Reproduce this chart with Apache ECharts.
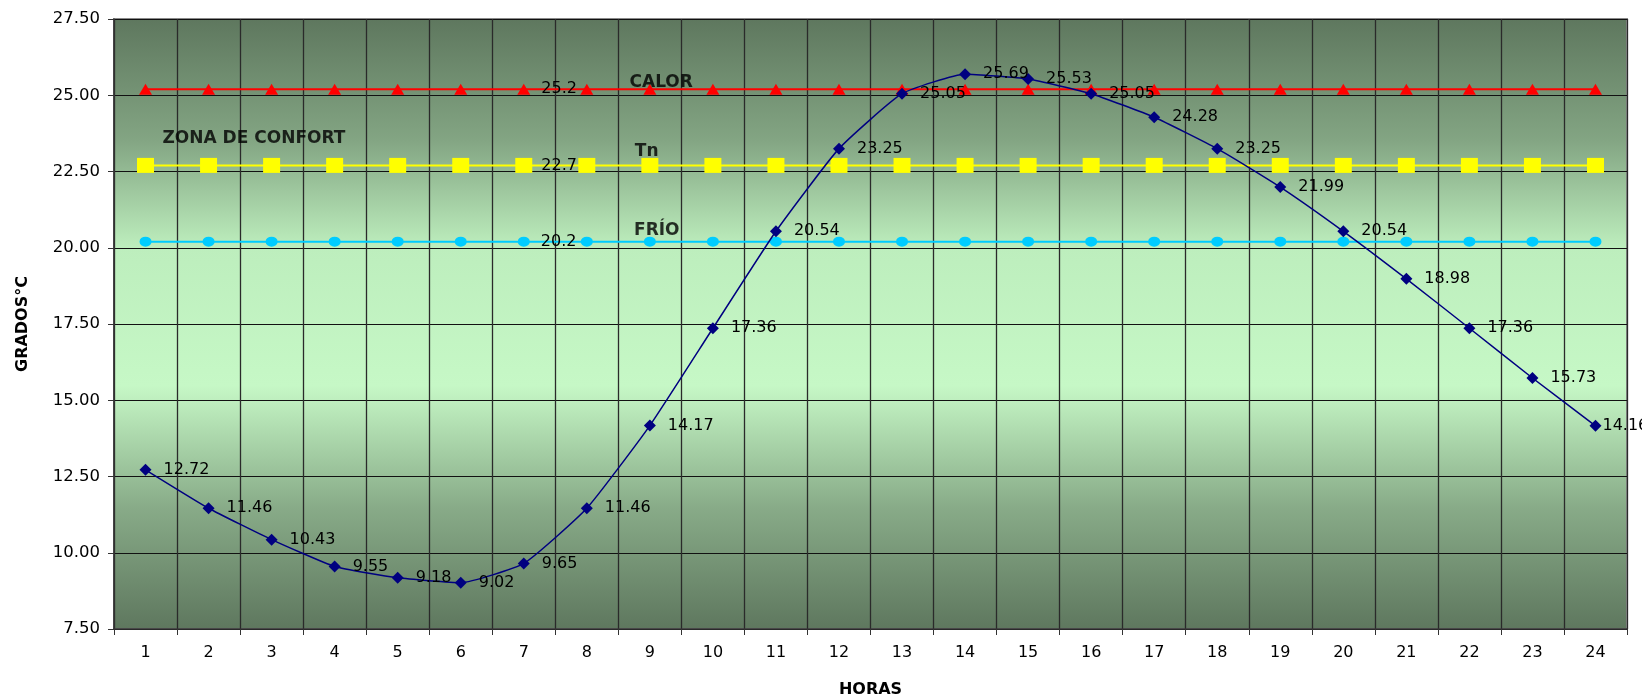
<!DOCTYPE html>
<html>
<head>
<meta charset="utf-8">
<script src="https://cdn.jsdelivr.net/npm/echarts@6/dist/echarts.min.js"></script>
<style>
html,body{margin:0;padding:0;background:#fff;}
#chart{width:1642px;height:696px;}
</style>
</head>
<body>
<div id="chart"></div>
<script>
const horas = ['1','2','3','4','5','6','7','8','9','10','11','12','13','14','15','16','17','18','19','20','21','22','23','24'];
const temperatura = [12.72,11.46,10.43,9.55,9.18,9.02,9.65,11.46,14.17,17.36,20.54,23.25,25.05,25.69,25.53,25.05,24.28,23.25,21.99,20.54,18.98,17.36,15.73,14.16];
const calor = [25.2,25.2,25.2,25.2,25.2,25.2,25.2,25.2,25.2,25.2,25.2,25.2,25.2,25.2,25.2,25.2,25.2,25.2,25.2,25.2,25.2,25.2,25.2,25.2];
const tn = [22.7,22.7,22.7,22.7,22.7,22.7,22.7,22.7,22.7,22.7,22.7,22.7,22.7,22.7,22.7,22.7,22.7,22.7,22.7,22.7,22.7,22.7,22.7,22.7];
const frio = [20.2,20.2,20.2,20.2,20.2,20.2,20.2,20.2,20.2,20.2,20.2,20.2,20.2,20.2,20.2,20.2,20.2,20.2,20.2,20.2,20.2,20.2,20.2,20.2];
const yTicks = [7.5,10,12.5,15,17.5,20,22.5,25,27.5];
const refLabelIndex = 6;
// annotation texts placed in data coordinates [hour, value]
const anotaciones = [
  [2.72, 23.57, 'ZONA DE CONFORT'],
  [9.18, 25.40, 'CALOR'],
  [8.95, 23.15, 'Tn'],
  [9.11, 20.57, 'FRÍO']
];

const FONT = '"DejaVu Sans", "Liberation Sans", Arial, sans-serif';

function refData(arr){
  return arr.map((v,i)=> i===refLabelIndex ? {value:v, label:{show:true}} : v);
}
function tempData(arr){
  return arr.map((v,i)=> i===arr.length-1 ? {value:v, label:{distance:1}} : v);
}

const chart = echarts.init(document.getElementById('chart'));
chart.setOption({
  animation:false,
  textStyle:{fontFamily:FONT},
  grid:{
    left:114, right:15, top:19, bottom:67,
    containLabel:false,
    outerBoundsMode:'none',
    show:true,
    borderColor:'#8a8a8a', borderWidth:2,
    backgroundColor:{
      type:'linear', x:0, y:0, x2:0, y2:1,
      colorStops:[
        {offset:0, color:'#5e775e'},
        {offset:0.2, color:'#83a583'},
        {offset:0.375, color:'#bdeebd'},
        {offset:0.6, color:'#c6f8c6'},
        {offset:0.8, color:'#88ab88'},
        {offset:1, color:'#5e775e'}
      ]
    }
  },
  xAxis:[{
    type:'category',
    data:horas,
    boundaryGap:true,
    name:'HORAS',
    nameLocation:'middle',
    nameGap:53,
    nameTextStyle:{fontFamily:FONT, fontWeight:'bold', fontSize:16, color:'#000'},
    axisLine:{lineStyle:{color:'#333', width:1.5}},
    axisTick:{show:true, length:6, lineStyle:{color:'#333'}},
    axisLabel:{fontFamily:FONT, fontSize:16, color:'#000', margin:16},
    splitLine:{show:true, lineStyle:{color:'#2a2a2a', width:1.3}}
  },{
    type:'value',
    min:0.5, max:24.5,
    show:false
  }],
  yAxis:{
    type:'value',
    min:yTicks[0], max:yTicks[yTicks.length-1], interval:2.5,
    name:'GRADOS°C',
    nameLocation:'middle',
    nameGap:83,
    nameRotate:90,
    nameTextStyle:{fontFamily:FONT, fontWeight:'bold', fontSize:16, color:'#000'},
    axisLine:{show:true, lineStyle:{color:'#333', width:1.5}},
    axisTick:{show:true, length:6, lineStyle:{color:'#333'}},
    axisLabel:{fontFamily:FONT, fontSize:16.5, color:'#000', margin:14, formatter:v=>v.toFixed(2)},
    splitLine:{show:true, lineStyle:{color:'#111', width:1}}
  },
  series:[
    {
      name:'FRÍO', type:'line', data:refData(frio),
      symbol:'circle', symbolSize:[12,10],
      itemStyle:{color:'#00ccff'}, lineStyle:{color:'#00ccff', width:2},
      label:{show:false, position:'right', distance:11, fontFamily:FONT, fontSize:16, color:'#000'}
    },
    {
      name:'Tn', type:'line', data:refData(tn),
      symbol:'rect', symbolSize:[17,15],
      itemStyle:{color:'#ffff00'}, lineStyle:{color:'#ffff00', width:2},
      label:{show:false, position:'right', distance:9, fontFamily:FONT, fontSize:16, color:'#000'}
    },
    {
      name:'CALOR', type:'line', data:refData(calor),
      symbol:'triangle', symbolSize:[13,11],
      itemStyle:{color:'#ff0000'}, lineStyle:{color:'#ff0000', width:2},
      label:{show:false, position:'right', distance:11, fontFamily:FONT, fontSize:16, color:'#000'}
    },
    {
      name:'Temperatura', type:'line', data:tempData(temperatura),
      smooth:0.15,
      symbol:'diamond', symbolSize:12,
      itemStyle:{color:'#000080'}, lineStyle:{color:'#000080', width:1.5},
      label:{show:true, position:'right', distance:12, fontFamily:FONT, fontSize:16, color:'#000', formatter:p=>p.value.toFixed(2)},
      z:5
    },
    {
      name:'anotaciones', type:'scatter', xAxisIndex:1,
      data:anotaciones.map(a=>({value:[a[0],a[1]], name:a[2]})),
      symbolSize:0,
      label:{show:true, position:'inside', formatter:p=>p.name, fontFamily:FONT, fontWeight:'bold', fontSize:17, color:'#000'},
      silent:true, z:6
    }
  ]
});
</script>
</body>
</html>
